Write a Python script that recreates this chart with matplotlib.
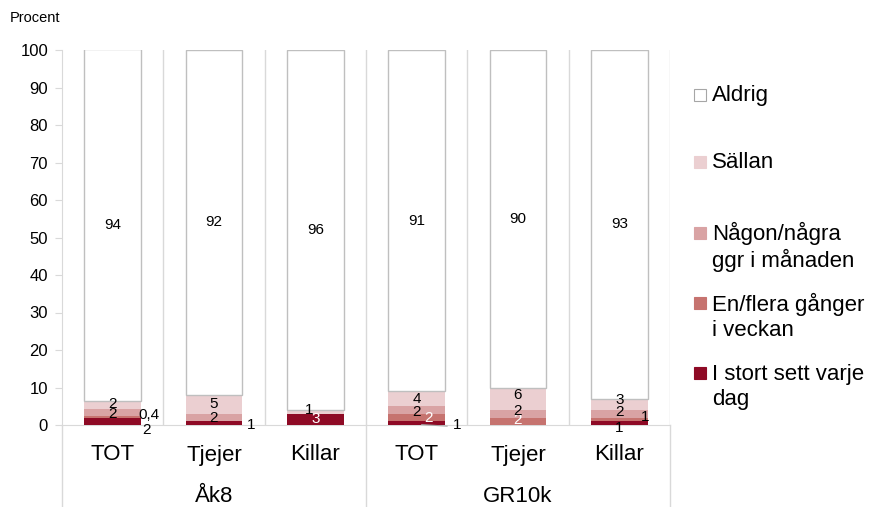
import matplotlib.pyplot as plt
import matplotlib.transforms as mtransforms
from matplotlib.patches import Rectangle
import numpy as np

plt.rcParams['font.family'] = ['Liberation Sans', 'DejaVu Sans']

categories = ['TOT', 'Tjejer', 'Killar', 'TOT', 'Tjejer', 'Killar']
groups = ['Åk8', 'GR10k']

# stacked from bottom to top
varje_dag = [2, 1, 3, 1, 0, 1]
en_flera = [0.4, 0, 0, 2, 2, 1]
nagon = [2, 2, 0, 2, 2, 2]
sallan = [2, 5, 1, 4, 6, 3]
aldrig = [94, 92, 96, 91, 90, 93]

series = [
    ('I stort sett varje\ndag', varje_dag, '#8E0A25'),
    ('En/flera gånger\ni veckan', en_flera, '#C6736F'),
    ('Någon/några\nggr i månaden', nagon, '#D9A3A4'),
    ('Sällan', sallan, '#EBCFD1'),
    ('Aldrig', aldrig, '#FFFFFF'),
]

# label tweaks (series index, bar index) -> (dx, dy, color)
label_adj = {
    (0, 0): (0.33, -2.3, 'black'),
    (1, 0): (0.36, 0.5, 'black'),
    (2, 0): (0, -0.5, 'black'),
    (3, 0): (0, 0.3, 'black'),
    (0, 1): (0.37, -0.6, 'black'),
    (3, 2): (-0.06, 0.4, 'black'),
    (0, 2): (0, 0, 'white'),
    (0, 3): (0.4, -0.5, 'black'),
    (1, 3): (0.12, 0, 'white'),
    (2, 3): (0, -0.4, 'black'),
    (3, 3): (0, -0.1, 'black'),
    (1, 4): (0, 0.3, 'white'),
    (2, 4): (0, 0.8, 'black'),
    (3, 4): (0, 0.9, 'black'),
    (0, 5): (0, -1.4, 'black'),
    (1, 5): (0.25, 0.6, 'black'),
    (2, 5): (0, 0.5, 'black'),
    (3, 5): (0, 1.2, 'black'),
}

fig = plt.figure(figsize=(8.74, 5.07), dpi=100)
ax = fig.add_axes([62 / 874, 82 / 507, 608 / 874, 375 / 507])

x = np.arange(len(categories))
width = 0.56
bottom = np.zeros(len(categories))
for si, (name, vals, col) in enumerate(series):
    vals = np.array(vals, dtype=float)
    if name == 'Aldrig':
        ax.bar(x, vals, width, bottom=bottom, color=col, edgecolor='#BFBFBF', linewidth=1, zorder=3)
    else:
        ax.bar(x, vals, width, bottom=bottom, color=col, linewidth=0, zorder=3)
    for i, v in enumerate(vals):
        if v <= 0:
            continue
        dx, dy, tc = label_adj.get((si, i), (0, 0, 'black'))
        txt = f'{v:g}'.replace('.', ',')
        ax.text(x[i] + dx, bottom[i] + v / 2 + dy, txt, ha='center', va='center',
                fontsize=11, color=tc, zorder=5)
    bottom += vals

# leader line for GR10k TOT daily label
ax.plot([3.05, 3.3], [0.1, -0.3], color='#A6A6A6', lw=0.8, zorder=4, clip_on=False)

ax.set_xlim(-0.5, len(categories) - 0.5)
ax.set_ylim(0, 100)
ax.set_yticks(range(0, 101, 10))
ax.tick_params(axis='y', labelsize=12, length=5, color='#D9D9D9', pad=5)
ax.set_xticks([])
for s in ['top', 'right']:
    ax.spines[s].set_visible(False)
ax.spines['left'].set_color('#D9D9D9')
ax.spines['bottom'].set_color('#D9D9D9')

for b in np.arange(0.5, len(categories), 1):
    ax.axvline(b, color='#D9D9D9', lw=1, zorder=1)

trans = mtransforms.blended_transform_factory(ax.transData, ax.transAxes)
for i, c in enumerate(categories):
    ax.text(i, -0.08, c, transform=trans, ha='center', va='center', fontsize=16)
for g, name in enumerate(groups):
    ax.text(g * 3 + 1, -0.192, name, transform=trans, ha='center', va='center', fontsize=16)
for b in [-0.5, 2.5, 5.5]:
    ax.plot([b, b], [0, -0.215], transform=trans, color='#D9D9D9', lw=1, clip_on=False)

fig.text(10 / 874, 1 - 18 / 507, 'Procent', fontsize=10.5, va='center', ha='left')

# legend, top entry first
legend_y = [95, 162, 233, 303, 373]
line_h = 28
for (name, vals, col), yp in zip(series[::-1], legend_y):
    nlines = name.count('\n') + 1
    edge = '#A6A6A6' if name == 'Aldrig' else col
    fig.patches.append(Rectangle((694 / 874, 1 - (yp + 6) / 507), 12 / 874, 12 / 507,
                                 transform=fig.transFigure, facecolor=col, edgecolor=edge, lw=0.8))
    yc = yp + (nlines - 1) * line_h / 2
    fig.text(712 / 874, 1 - yc / 507, name, fontsize=16, va='center', ha='left', linespacing=1.25)

fig.savefig('out.png', dpi=100)
